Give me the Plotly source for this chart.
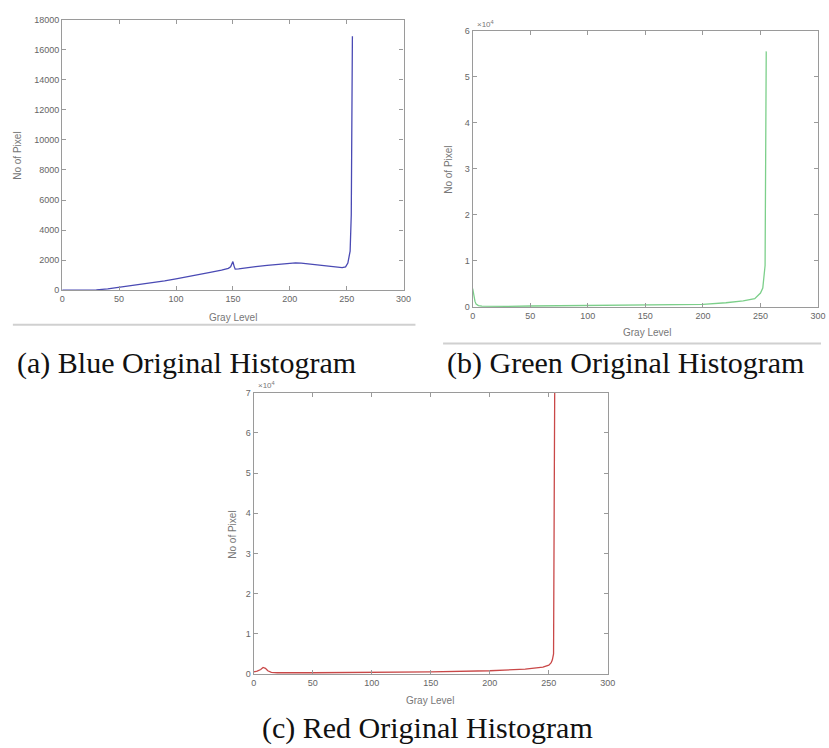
import plotly.graph_objects as go

W, H = 829, 748

# ---- data ----
blue_x = [0, 20, 30, 40, 50, 60, 70, 80, 90, 100, 110, 120, 130, 140, 146, 148, 149, 150, 151, 152,
          155, 160, 170, 180, 190, 200, 205, 210, 220, 230, 240, 246, 249, 251, 252, 253, 254, 255]
blue_y = [0, 0, 20, 80, 180, 280, 400, 500, 620, 750, 880, 1050, 1180, 1330, 1450, 1550, 1750, 1900, 1600, 1400,
          1420, 1480, 1560, 1650, 1720, 1780, 1820, 1800, 1720, 1620, 1520, 1500, 1550, 1800, 2200, 2600, 5000, 16900]

green_x = [0, 1, 2, 3, 5, 8, 15, 30, 50, 100, 150, 200, 220, 235, 245, 248, 250, 252, 253, 254, 255]
green_y = [4000, 2500, 1200, 600, 300, 150, 100, 120, 200, 300, 400, 550, 900, 1300, 1800, 2400, 3000, 4100, 6000, 9000, 55500]

red_x = [0, 3, 6, 8, 10, 12, 15, 20, 50, 100, 150, 200, 230, 245, 250, 252, 253, 254, 255]
red_y = [500, 700, 1100, 1600, 1400, 800, 400, 300, 300, 350, 500, 800, 1200, 1700, 2200, 2800, 3500, 5000, 72000]

x_ticks = [0, 50, 100, 150, 200, 250, 300]
blue_y_ticks = [0, 2000, 4000, 6000, 8000, 10000, 12000, 14000, 16000, 18000]
blue_y_labels = ["0", "2000", "4000", "6000", "8000", "10000", "12000", "14000", "16000", "18000"]
green_y_ticks = [0, 10000, 20000, 30000, 40000, 50000, 60000]
green_y_labels = ["0", "1", "2", "3", "4", "5", "6"]
red_y_ticks = [0, 10000, 20000, 30000, 40000, 50000, 60000, 70000]
red_y_labels = ["0", "1", "2", "3", "4", "5", "6", "7"]

captions = ["(a) Blue Original Histogram", "(b) Green Original Histogram", "(c) Red Original Histogram"]
x_title = "Gray Level"
y_title = "No of Pixel"

# ---- layout geometry (pixels) ----
def px_dom(x0, x1):
    return [x0 / W, x1 / W]

def py_dom(top, bottom):
    return [1 - bottom / H, 1 - top / H]

boxes = {
    "a": (60, 406, 15, 289),
    "b": (476, 826, 26, 306),
    "c": (254, 613, 393, 678),
}

fig = go.Figure()
fig.add_trace(go.Scatter(x=blue_x, y=blue_y, mode="lines", line=dict(color="#4a4ab4", width=1.3),
                         xaxis="x", yaxis="y", showlegend=False))
fig.add_trace(go.Scatter(x=green_x, y=green_y, mode="lines", line=dict(color="#7ccf8a", width=1.3),
                         xaxis="x2", yaxis="y2", showlegend=False))
fig.add_trace(go.Scatter(x=red_x, y=red_y, mode="lines", line=dict(color="#c94848", width=1.3),
                         xaxis="x3", yaxis="y3", showlegend=False))

tick_font = dict(family="Liberation Sans, Arial, sans-serif", size=9, color="#666")
axis_common = dict(showline=True, linecolor="#9a9a9a", linewidth=1.3, mirror="ticks", ticks="inside",
                   ticklen=4, tickcolor="#9a9a9a", showgrid=False, zeroline=False, tickfont=tick_font)

def xa(key, anchor):
    x0, x1, t, b = boxes[key]
    return dict(domain=px_dom(x0, x1), range=[0, 300], tickvals=x_ticks,
                ticktext=[str(v) for v in x_ticks], anchor=anchor, **axis_common)

def ya(key, anchor, rng, vals, labels):
    x0, x1, t, b = boxes[key]
    return dict(domain=py_dom(t, b), range=rng, tickvals=vals, ticktext=labels, anchor=anchor, **axis_common)

fig.update_layout(
    width=W, height=H, margin=dict(l=0, r=0, t=0, b=0),
    paper_bgcolor="white", plot_bgcolor="white",
    xaxis=xa("a", "y"), yaxis=ya("a", "x", [0, 18000], blue_y_ticks, blue_y_labels),
    xaxis2=xa("b", "y2"), yaxis2=ya("b", "x2", [0, 60000], green_y_ticks, green_y_labels),
    xaxis3=xa("c", "y3"), yaxis3=ya("c", "x3", [0, 70000], red_y_ticks, red_y_labels),
)

ann = []
title_font = dict(family="Liberation Sans, Arial, sans-serif", size=10, color="#777")

def add_text(x, y, text, font, angle=0, xanchor="center", yanchor="middle"):
    ann.append(dict(x=x / W, y=1 - y / H, xref="paper", yref="paper", text=text, showarrow=False,
                    font=font, textangle=angle, xanchor=xanchor, yanchor=yanchor))

# axis titles
add_text(233, 317, x_title, title_font)
add_text(15, 153, y_title, title_font, angle=-90)
add_text(653, 332, x_title, title_font)
add_text(452, 167, y_title, title_font, angle=-90)
add_text(433, 705, x_title, title_font)
add_text(233, 537, y_title, title_font, angle=-90)

# exponent labels
exp_font = dict(family="Liberation Sans, Arial, sans-serif", size=8, color="#777")
add_text(478, 19, "×10<sup>4</sup>", exp_font, xanchor="left")
add_text(256, 385, "×10<sup>4</sup>", exp_font, xanchor="left")

# captions
cap_font = dict(family="Liberation Serif, Times New Roman, serif", size=30, color="#111")
add_text(12, 363, captions[0], cap_font, xanchor="left")
add_text(448, 363, captions[1], cap_font, xanchor="left")
add_text(260, 733, captions[2], cap_font, xanchor="left")

fig.update_layout(annotations=ann)

# image border lines under the pasted figures
fig.add_shape(type="line", xref="paper", yref="paper", x0=10 / W, x1=418 / W, y0=1 - 324 / H, y1=1 - 324 / H,
              line=dict(color="#d0d0d0", width=2))
fig.add_shape(type="line", xref="paper", yref="paper", x0=446 / W, x1=1, y0=1 - 343 / H, y1=1 - 343 / H,
              line=dict(color="#d0d0d0", width=2))

fig.write_html("out.html")
